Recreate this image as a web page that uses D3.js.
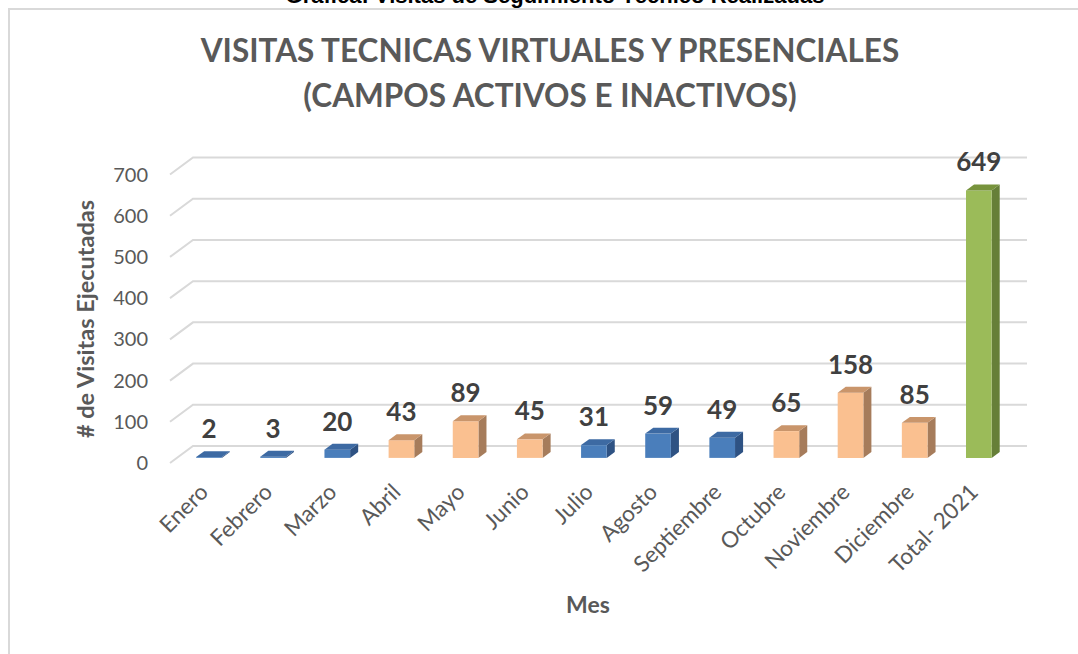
<!DOCTYPE html>
<html>
<head>
<meta charset="utf-8">
<script src="https://cdn.jsdelivr.net/npm/d3@7"></script>
<style>
  html, body { margin: 0; padding: 0; background: #ffffff; }
  svg { display: block; }
</style>
</head>
<body>
<svg id="chart" width="1078" height="654"></svg>
<script>
// Monthly technical visits, 2021
const categories = ["Enero", "Febrero", "Marzo", "Abril", "Mayo", "Junio", "Julio",
  "Agosto", "Septiembre", "Octubre", "Noviembre", "Diciembre", "Total- 2021"];
const visits = [2, 3, 20, 43, 89, 45, 31, 59, 49, 65, 158, 85, 649];
const groups = ["a", "a", "a", "b", "b", "b", "a", "a", "a", "b", "b", "b", "total"];
const yTicks = [0, 100, 200, 300, 400, 500, 600, 700];

const titleLines = ["VISITAS TECNICAS VIRTUALES Y PRESENCIALES", "(CAMPOS ACTIVOS E INACTIVOS)"];
const pageHeading = "Gráfica: Visitas de Seguimiento Técnico Realizadas";
const yTitle = "# de Visitas Ejecutadas";
const xTitle = "Mes";

// face colours per group: front, top, side
const palette = {
  a:     { front: "#4a7ebb", top: "#3d6aa3", side: "#2e5283" },
  b:     { front: "#fac090", top: "#c9956b", side: "#a67c5b" },
  total: { front: "#9bbb59", top: "#77933c", side: "#667f38" }
};

const svg = d3.select("#chart");
const FONT = "Lato, 'Open Sans', 'DejaVu Sans', sans-serif";

// oblique projection: depth 0 = front plane, depth 1 = back wall
const DX = 23, DY = -17;
const x = d3.scaleBand().domain(categories).range([170, 1004]);
const y = d3.scaleLinear().domain([0, 700]).range([463, 174.5]);
const P = (xf, v, d) => [xf + DX * d, y(v) + DY * d];

// chart area border
svg.append("rect")
  .attr("x", 9).attr("y", 9).attr("width", 1100).attr("height", 700)
  .attr("fill", "none").attr("stroke", "#d9d9d9").attr("stroke-width", 2);

// page heading, running off the top edge
svg.append("text")
  .attr("x", 555).attr("y", 3)
  .attr("text-anchor", "middle")
  .attr("font-family", "'Liberation Sans', Arial, sans-serif")
  .attr("font-weight", "bold").attr("font-size", 22)
  .attr("fill", "#000000")
  .text(pageHeading);

// chart title
svg.append("g").selectAll("text").data(titleLines).join("text")
  .attr("x", 550).attr("y", (d, i) => 62 + i * 45)
  .attr("text-anchor", "middle")
  .attr("font-family", FONT).attr("font-weight", "bold").attr("font-size", 31.5)
  .attr("fill", "#595959")
  .text(d => d);

// gridlines: floor diagonal plus back-wall line
const line = d3.line();
svg.append("g").selectAll("path").data(yTicks).join("path")
  .attr("d", t => line([P(170, t, 0), P(170, t, 1), P(1004, t, 1)]))
  .attr("fill", "none").attr("stroke", "#d9d9d9").attr("stroke-width", 2);

// y tick labels
svg.append("g").selectAll("text").data(yTicks).join("text")
  .attr("x", 148).attr("y", t => y(t)).attr("dy", "0.35em")
  .attr("text-anchor", "end")
  .attr("font-family", FONT).attr("font-size", 20)
  .attr("fill", "#595959")
  .text(t => t);

// 3D bars
const D0 = 0.3, D1 = 0.65;
const bw = x.step() * 0.4;
const bars = categories.map((c, i) => {
  const x0 = x(c) + (x.step() - bw) / 2;
  return { c, v: visits[i], g: groups[i], x0, x1: x0 + bw };
});
const poly = pts => "M" + pts.map(p => p.join(",")).join("L") + "Z";

const barG = svg.append("g").selectAll("g").data(bars).join("g");
barG.append("path")
  .attr("d", b => poly([P(b.x1, b.v, D0), P(b.x1, b.v, D1), P(b.x1, 0, D1), P(b.x1, 0, D0)]))
  .attr("fill", b => palette[b.g].side);
barG.append("path")
  .attr("d", b => poly([P(b.x0, 0, D0), P(b.x1, 0, D0), P(b.x1, b.v, D0), P(b.x0, b.v, D0)]))
  .attr("fill", b => palette[b.g].front);
barG.append("path")
  .attr("d", b => poly([P(b.x0, b.v, D0), P(b.x1, b.v, D0), P(b.x1, b.v, D1), P(b.x0, b.v, D1)]))
  .attr("fill", b => palette[b.g].top);

// value labels
svg.append("g").selectAll("text").data(bars).join("text")
  .attr("x", b => (b.x0 + b.x1) / 2 + DX * D0)
  .attr("y", b => P(0, b.v, D1)[1] - 13)
  .attr("text-anchor", "middle")
  .attr("font-family", FONT).attr("font-weight", "bold").attr("font-size", 26)
  .attr("fill", "#404040")
  .text(b => b.v);

// category labels, rotated
svg.append("g").selectAll("text").data(categories).join("text")
  .attr("transform", c => `translate(${x(c) + x.step() / 2 + 2},${488}) rotate(-45)`)
  .attr("dy", "0.35em")
  .attr("text-anchor", "end")
  .attr("font-family", FONT).attr("font-size", 22.5)
  .attr("fill", "#595959")
  .text(c => c);

// axis titles
svg.append("text")
  .attr("transform", "translate(94,319) rotate(-90)")
  .attr("text-anchor", "middle")
  .attr("font-family", FONT).attr("font-weight", "bold").attr("font-size", 23.5)
  .attr("fill", "#595959")
  .text(yTitle);

svg.append("text")
  .attr("x", 588).attr("y", 613)
  .attr("text-anchor", "middle")
  .attr("font-family", FONT).attr("font-weight", "bold").attr("font-size", 23)
  .attr("fill", "#595959")
  .text(xTitle);
</script>
</body>
</html>
